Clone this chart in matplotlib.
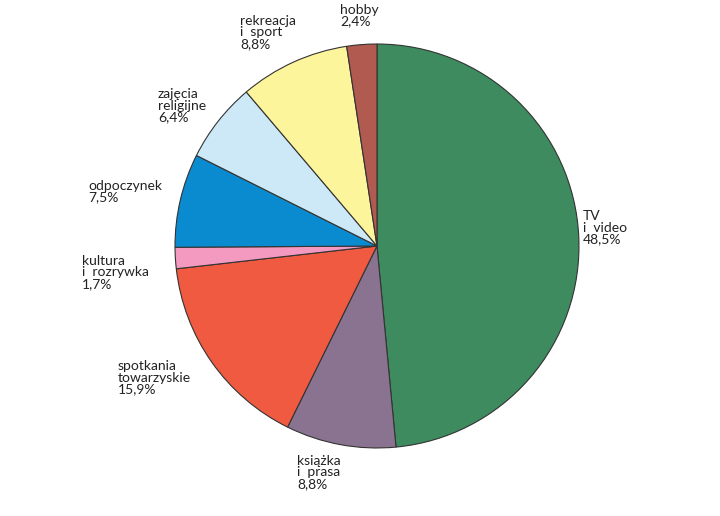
import matplotlib
matplotlib.use("Agg")
import matplotlib.pyplot as plt

labels = ["TV\ni  video\n48,5%", "książka\ni  prasa\n8,8%", "spotkania\ntowarzyskie\n15,9%",
          "kultura\ni  rozrywka\n1,7%", "odpoczynek\n7,5%", "zajęcia\nreligijne\n6,4%",
          "rekreacja\ni  sport\n8,8%", "hobby\n2,4%"]
values = [48.5, 8.8, 15.9, 1.7, 7.5, 6.4, 8.8, 2.4]
colors = ["#3d8b5f", "#8a7390", "#ef5a40", "#f49ac1", "#0b8bcf", "#cde9f8", "#fdf59b", "#b05a50"]
# label anchor (top-left) in pixels
label_pos = [(583, 210), (297, 455), (118, 360), (82, 255), (88, 180), (158, 88), (240, 15), (340, 4)]

plt.rcParams['font.family'] = ['Lato', 'DejaVu Sans']
fig = plt.figure(figsize=(7.2, 5.16), dpi=100)
ax = fig.add_axes([(377 - 204) / 720, (516 - 246 - 204) / 516, 408 / 720, 408 / 516])
ax.pie(values, colors=colors, startangle=90, counterclock=False,
       wedgeprops=dict(edgecolor="#333333", linewidth=0.8))
ax.set_aspect("auto")
ax.set_xlim(-1.01, 1.01)
ax.set_ylim(-1.01, 1.01)

for lab, (px, py) in zip(labels, label_pos):
    fig.text(px / 720, 1 - py / 516, lab, ha="left", va="top", fontsize=10,
             linespacing=0.95, color="#222222")

fig.savefig("out.png", dpi=100)
